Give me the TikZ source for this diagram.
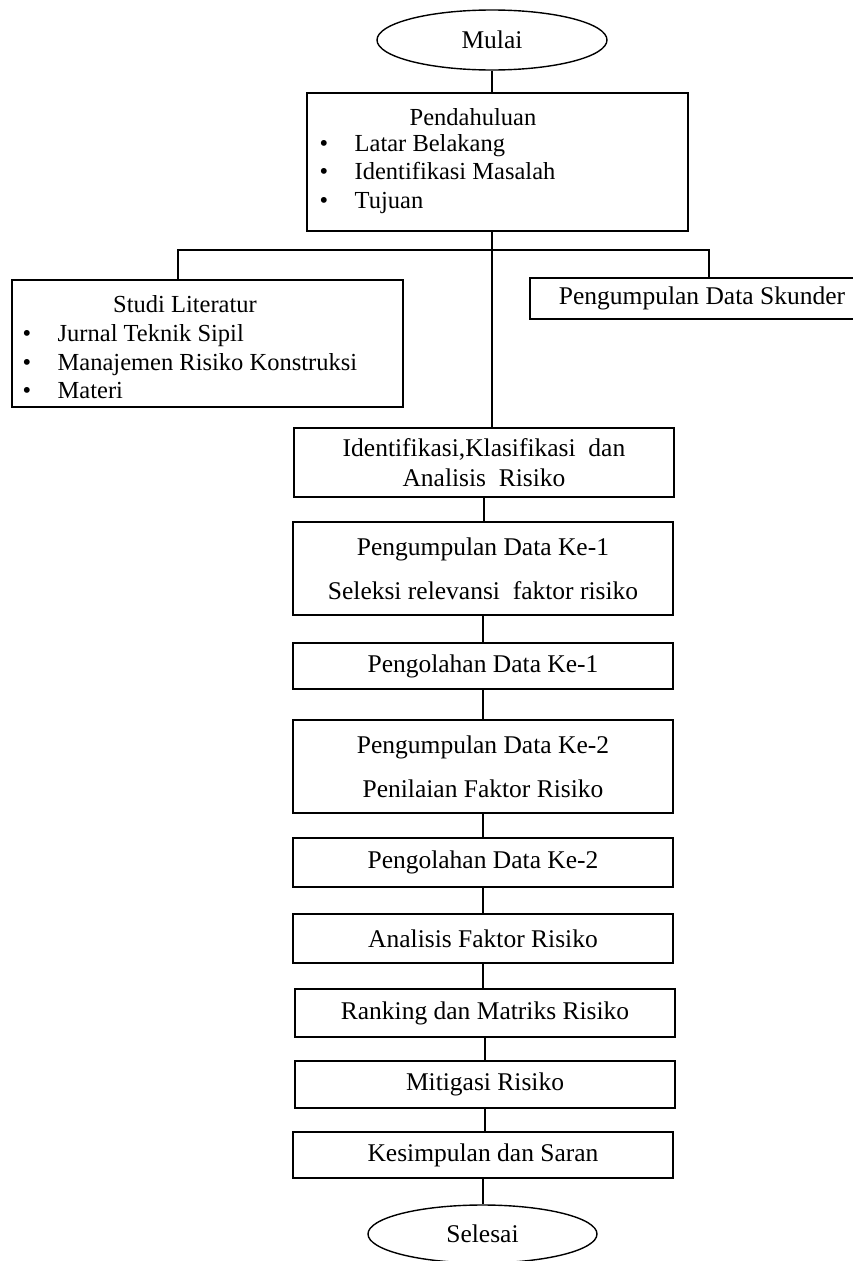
\documentclass[tikz,border=0pt]{standalone}
\usepackage{fontspec}
\setmainfont{Liberation Serif}
\usetikzlibrary{shapes.geometric,positioning}
\newcommand{\itembullet}{\makebox[35pt][l]{\textbullet}}

\begin{document}
\begin{tikzpicture}[x=1pt,y=-1pt,line width=1.4pt,
  every node/.style={font=\fontsize{25.5}{30}\selectfont,inner sep=0pt},
  stepbox/.style={draw,rectangle,minimum width=380pt,align=center},
  terminal/.style={draw,ellipse,minimum width=230pt,minimum height=60pt},
  itemlist/.style={anchor=west,align=left,font=\fontsize{24.5}{28.5}\selectfont}]
  \useasboundingbox (0,0) rectangle (853,1261);

  % start and introduction
  \node[terminal] (start) at (492,40) {Mulai};
  \node[stepbox,minimum width=381pt,minimum height=138pt] (pend) at (497.5,162) {};
  \node[font=\fontsize{24.5}{28}\selectfont] (pendT) at (473,117) {Pendahuluan};
  \node[itemlist] (pendL) at (319,174) {\itembullet Latar Belakang\\ \itembullet Identifikasi Masalah\\ \itembullet Tujuan};

  % side branches
  \node[stepbox,minimum width=391pt,minimum height=127pt] (studi) at (207.5,343.5) {};
  \node[font=\fontsize{24.5}{28}\selectfont] (studiT) at (185,304) {Studi Literatur};
  \node[itemlist] (studiL) at (22,362) {\itembullet Jurnal Teknik Sipil\\ \itembullet Manajemen Risiko Konstruksi\\ \itembullet Materi};
  \node[stepbox,minimum width=344pt,minimum height=41pt] (skund) at (702,298.5) {Pengumpulan Data Skunder};

  % main steps
  \node[stepbox,minimum height=69pt] (iden) at (484,462.5) {Identifikasi,Klasifikasi\ \ dan\\ Analisis\ \ Risiko};
  \node[stepbox,minimum height=93pt] (peng1) at (483,568.5) {Pengumpulan Data Ke-1\\[14pt] Seleksi relevansi\ \ faktor risiko};
  \node[stepbox,minimum height=46pt] (olah1) at (483,666) {Pengolahan Data Ke-1};
  \node[stepbox,minimum height=93pt] (peng2) at (483,766.5) {Pengumpulan Data Ke-2\\[14pt] Penilaian Faktor Risiko};
  \node[stepbox,minimum height=49pt] (olah2) at (483,862.5) {Pengolahan Data Ke-2};
  \node[stepbox,minimum height=49pt] (anal) at (483,938.5) {Analisis Faktor Risiko};
  \node[stepbox,minimum height=48pt] (rank) at (485,1013) {Ranking dan Matriks Risiko};
  \node[stepbox,minimum height=47pt] (miti) at (485,1084.5) {Mitigasi Risiko};
  \node[stepbox,minimum height=46pt] (kesi) at (483,1155) {Kesimpulan dan Saran};
  \node[terminal,minimum width=229pt,minimum height=58pt] (stop) at (482.5,1234) {Selesai};

  % connectors
  \coordinate (brL) at (178,250);
  \coordinate (brR) at (709,250);
  \draw (start.south) -- (start.south |- pend.north);
  \draw (start.south |- pend.south) -- (start.south |- iden.north);
  \draw (brL |- studi.north) -- (brL) -- (brR) -- (brR |- skund.north);
  \foreach \a/\b in {iden/peng1,peng1/olah1,olah1/peng2,peng2/olah2,olah2/anal,anal/rank,rank/miti,miti/kesi,kesi/stop}
    \draw (\a.south) -- (\a.south |- \b.north);
\end{tikzpicture}
\end{document}
